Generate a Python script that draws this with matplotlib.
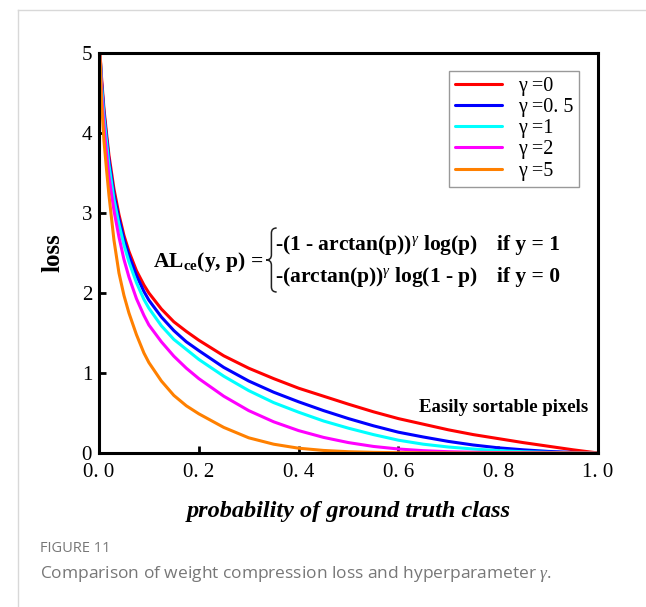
import matplotlib.pyplot as plt
from matplotlib.lines import Line2D
from matplotlib.path import Path
from matplotlib.patches import PathPatch

# probability grid and loss curves
p = [0.002, 0.005, 0.01, 0.015, 0.02, 0.03, 0.04, 0.05, 0.06, 0.075, 0.09, 0.1,
     0.125, 0.15, 0.175, 0.2, 0.25, 0.3, 0.35, 0.4, 0.45, 0.5, 0.55, 0.6,
     0.65, 0.7, 0.75, 0.8, 0.85, 0.9, 0.95, 1.0]

loss_g0 = [5.0, 4.7, 4.3, 4.0, 3.72, 3.3, 2.98, 2.72, 2.52, 2.28, 2.1, 2.0,
           1.8, 1.64, 1.52, 1.41, 1.215, 1.06, 0.93, 0.81, 0.71, 0.61, 0.515, 0.43,
           0.36, 0.29, 0.23, 0.18, 0.13, 0.085, 0.04, 0.0]
loss_g05 = [5.0, 4.65, 4.25, 3.95, 3.66, 3.23, 2.93, 2.67, 2.47, 2.22, 2.02, 1.91,
            1.7, 1.53, 1.39, 1.28, 1.07, 0.9, 0.76, 0.64, 0.53, 0.43, 0.34, 0.26,
            0.2, 0.145, 0.1, 0.065, 0.04, 0.02, 0.007, 0.0]
loss_g1 = [5.0, 4.6, 4.2, 3.9, 3.6, 3.17, 2.86, 2.6, 2.39, 2.13, 1.92, 1.81,
           1.59, 1.42, 1.295, 1.17, 0.96, 0.78, 0.63, 0.51, 0.4, 0.31, 0.23, 0.16,
           0.11, 0.075, 0.05, 0.03, 0.016, 0.008, 0.003, 0.0]
loss_g2 = [5.0, 4.5, 4.08, 3.75, 3.45, 3.03, 2.7, 2.42, 2.2, 1.93, 1.72, 1.6,
           1.39, 1.21, 1.06, 0.93, 0.71, 0.53, 0.39, 0.28, 0.195, 0.13, 0.082, 0.05,
           0.029, 0.016, 0.009, 0.005, 0.002, 0.001, 0.0, 0.0]
loss_g5 = [5.0, 4.4, 3.9, 3.55, 3.22, 2.66, 2.25, 1.97, 1.75, 1.48, 1.25, 1.13,
           0.9, 0.72, 0.59, 0.49, 0.32, 0.19, 0.11, 0.06, 0.032, 0.016, 0.008, 0.004,
           0.002, 0.001, 0.0, 0.0, 0.0, 0.0, 0.0, 0.0]

labels = ['γ =0', 'γ =0. 5', 'γ =1', 'γ =2', 'γ =5']
colors = ['#ff0000', '#0000ff', '#00ffff', '#ff00ff', '#ff8000']
xticks = [0.0, 0.2, 0.4, 0.6, 0.8, 1.0]
xtick_labels = ['0. 0', '0. 2', '0. 4', '0. 6', '0. 8', '1. 0']
yticks = [0, 1, 2, 3, 4, 5]

serif = 'Liberation Serif'
plt.rcParams['mathtext.fontset'] = 'custom'
plt.rcParams['mathtext.rm'] = 'Liberation Serif:bold'
plt.rcParams['mathtext.bf'] = 'Liberation Serif:bold'
plt.rcParams['mathtext.it'] = 'Liberation Serif:italic'


def draw_brace(ax, x_tip, x_arm, y0, y1):
    xm = (x_tip + x_arm) / 2
    ym = (y0 + y1) / 2
    d = (y1 - y0) * 0.08
    verts = [(x_arm, y1), (xm, y1), (xm, y1 - d), (xm, ym + d), (xm, ym), (x_tip, ym),
             (xm, ym), (xm, ym - d), (xm, y0 + d), (xm, y0), (x_arm, y0)]
    codes = [Path.MOVETO, Path.CURVE3, Path.CURVE3, Path.LINETO, Path.CURVE3, Path.CURVE3,
             Path.CURVE3, Path.CURVE3, Path.LINETO, Path.CURVE3, Path.CURVE3]
    ax.add_patch(PathPatch(Path(verts, codes), transform=ax.transAxes, fill=False,
                           lw=1.1, edgecolor='#222222'))


fig = plt.figure(figsize=(6.46, 6.07), dpi=100)
ax = fig.add_axes([99 / 646, 154 / 607, 499 / 646, 400 / 607])

for ys, c, lab in zip([loss_g0, loss_g05, loss_g1, loss_g2, loss_g5], colors, labels):
    ax.plot(p, ys, color=c, lw=2.2, label=lab, solid_capstyle='round')

ax.set_xlim(0, 1)
ax.set_ylim(0, 5)
ax.set_xticks(xticks)
ax.set_xticklabels(xtick_labels)
ax.set_yticks(yticks)
ax.tick_params(direction='in', length=5, width=2, labelsize=15)
ax.tick_params(axis='x', pad=7)
ax.tick_params(axis='y', pad=5)
for lab in ax.get_xticklabels() + ax.get_yticklabels():
    lab.set_fontfamily(serif)
for s in ax.spines.values():
    s.set_linewidth(2.2)

ax.set_xlabel('probability of ground truth class', fontfamily=serif,
              fontweight='bold', fontstyle='italic', fontsize=17.5, labelpad=14)
ax.set_ylabel('loss', fontfamily=serif, fontweight='bold', fontsize=18, labelpad=12)

leg = ax.legend(loc='upper right', bbox_to_anchor=(0.962, 0.955), borderaxespad=0,
                frameon=True, fancybox=False, edgecolor='#808080', handlelength=2.3,
                prop={'family': serif, 'size': 14.5}, labelspacing=0.1,
                borderpad=0.3, handletextpad=0.8)
leg.get_frame().set_linewidth(1.0)

# formula
ax.text(0.108, 0.478, 'AL$_{\\mathbf{ce}}$(y, p) =', transform=ax.transAxes,
        fontsize=15.5, va='center', ha='left', fontfamily=serif, fontweight='bold')
draw_brace(ax, 0.335, 0.356, 0.4025, 0.5625)
ax.text(0.352, 0.52, '-(1 - arctan(p))$^{\\gamma}$ log(p)', transform=ax.transAxes,
        fontsize=15.5, va='center', ha='left', fontfamily=serif, fontweight='bold')
ax.text(0.352, 0.44, '-(arctan(p))$^{\\gamma}$ log(1 - p)', transform=ax.transAxes,
        fontsize=15.5, va='center', ha='left', fontfamily=serif, fontweight='bold')
ax.text(0.798, 0.52, 'if y = 1', transform=ax.transAxes, fontsize=15.5,
        va='center', ha='left', fontfamily=serif, fontweight='bold')
ax.text(0.798, 0.44, 'if y = 0', transform=ax.transAxes, fontsize=15.5,
        va='center', ha='left', fontfamily=serif, fontweight='bold')

ax.text(0.98, 0.115, 'Easily sortable pixels', transform=ax.transAxes, ha='right',
        va='center', fontfamily=serif, fontweight='bold', fontsize=13.5)

# page frame and caption
fig.add_artist(Line2D([18 / 646, 18 / 646], [0, 1 - 10 / 607], transform=fig.transFigure,
                      color='#d8d8d8', lw=1))
fig.add_artist(Line2D([18 / 646, 1], [1 - 10 / 607, 1 - 10 / 607], transform=fig.transFigure,
                      color='#d8d8d8', lw=1))
fig.text(40 / 646, 1 - 549 / 607, 'FIGURE 11', fontfamily='Open Sans', fontsize=10.5,
         color='#777777', va='center', ha='left')
fig.text(40 / 646, 1 - 574 / 607, 'Comparison of weight compression loss and hyperparameter $\\mathit{\\gamma}$.',
         fontfamily='Open Sans', fontsize=12.5, color='#777777', va='center', ha='left')

fig.savefig('out.png', dpi=100)
